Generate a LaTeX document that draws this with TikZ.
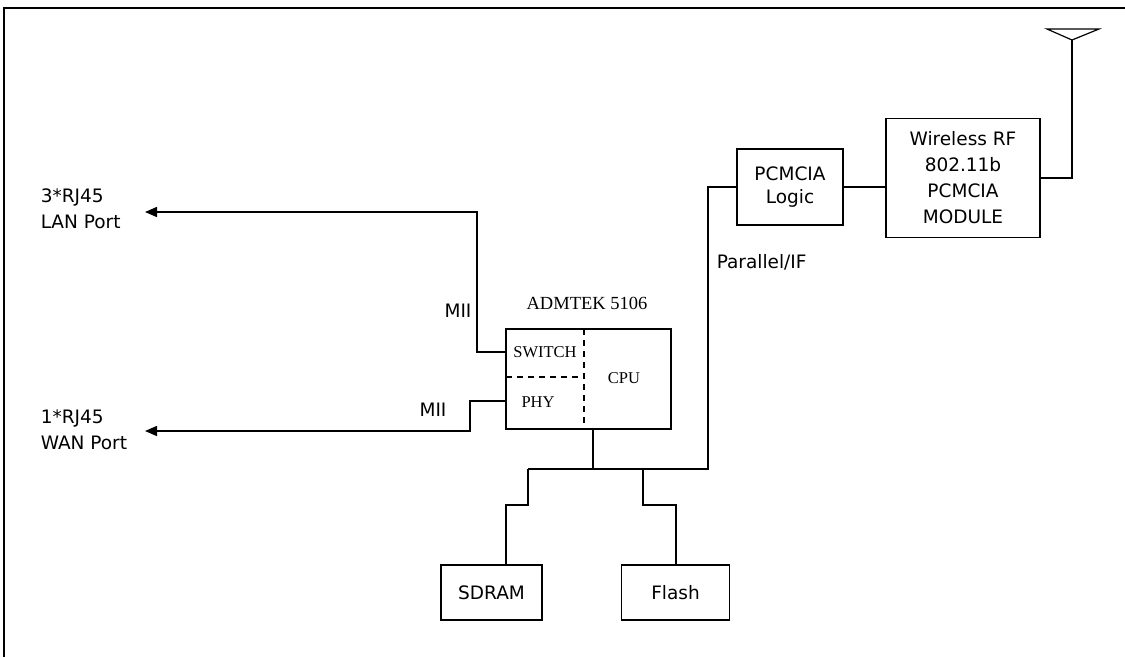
\documentclass[tikz,border=0pt]{standalone}
\usepackage{fontspec}
\setmainfont{Liberation Serif}
\newfontfamily\labfont{DejaVu Sans}
\usetikzlibrary{arrows.meta,calc}
\begin{document}
\begin{tikzpicture}[x=1pt,y=-1pt,
  line width=1.5pt,
  blk/.style={draw,rectangle,inner sep=0pt,align=center,font=\labfont\fontsize{18.5}{26}\selectfont},
  lbl/.style={inner sep=0pt,align=left,font=\labfont\fontsize{18.5}{26}\selectfont},
  srf/.style={inner sep=0pt,font=\fontsize{16.5}{19}\selectfont},
  arr/.style={-{Triangle[length=12pt,width=10pt]}}]
\useasboundingbox (0,0) rectangle (1125,657);
% frame
\draw (4,657) -- (4,8) -- (1125,8);
% blocks
\node[blk,minimum width=154pt,minimum height=119pt] (wrf) at (963,178) {Wireless RF\\802.11b\\PCMCIA\\MODULE};
\node[blk,minimum width=106pt,minimum height=76pt,font=\labfont\fontsize{18.5}{23.5}\selectfont] (pcl) at (790,187) {PCMCIA\\Logic};
\node[draw,rectangle,minimum width=165pt,minimum height=100pt] (adm) at (588.5,379) {};
\node[blk,minimum width=101pt,minimum height=55pt] (sdram) at (491.5,592.5) {SDRAM};
\node[blk,minimum width=108pt,minimum height=55pt] (flash) at (675.5,592.5) {Flash};
% inside ADMTEK
\draw[dash pattern=on 6pt off 5pt] (584,329) -- (584,429);
\draw[dash pattern=on 6pt off 5pt] (506,377) -- (584,377);
\node[srf] (sw) at (545,352) {SWITCH};
\node[srf] (phy) at (538,402) {PHY};
\node[srf] (cpu) at (624,378) {CPU};
\node[inner sep=0pt,font=\fontsize{18.5}{20}\selectfont] (admt) at (587,303) {ADMTEK 5106};
% labels
\node[lbl,anchor=west] (lan) at (40,209) {3*RJ45\\LAN Port};
\node[lbl,anchor=west] (wan) at (40,430) {1*RJ45\\WAN Port};
\node[lbl] (mii1) at (458,311) {MII};
\node[lbl] (mii2) at (433,410) {MII};
\node[lbl,anchor=west] (par) at (716,262) {Parallel/IF};
% coordinates
\coordinate (swp) at (506,352);
\coordinate (phyp) at (506,401);
\coordinate (lanend) at (145,212);
\coordinate (wanend) at (145,431);
\coordinate (cpuo) at (593,429);
\coordinate (busm) at (593,469);
\coordinate (busL) at (528,469);
\coordinate (busR) at (708,469);
\coordinate (flb) at (643,469);
\coordinate (antb) at (1072,40);
% connectors
\draw[arr] (swp) -- (477,352) -- (477,212) -- (lanend);
\draw[arr] (phyp) -- (470,401) -- (470,431) -- (wanend);
\draw (cpuo) -- (busm);
\draw (busL) -- (busR) |- (pcl.west);
\draw (busL) -- (528,505) -| ($(sdram.north)+(14.5,0)$);
\draw (flb) -- (643,505) -| ($(flash.north)+(0.5,0)$);
\draw (pcl.east) -- (pcl.east -| wrf.west);
\draw (wrf.east) -| (antb);
% antenna
\draw[line width=1.2pt] (1047,29) -- (1099,29) -- (antb) -- cycle;
\end{tikzpicture}
\end{document}
